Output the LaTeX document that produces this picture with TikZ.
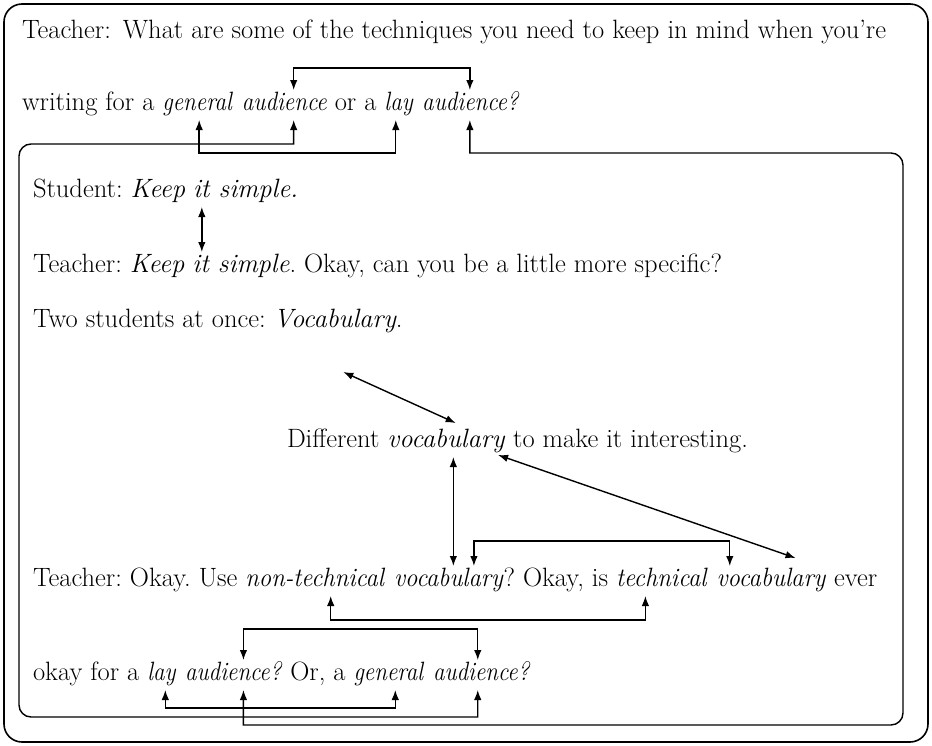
\documentclass[tikz,border=0pt]{standalone}
\usepackage{graphicx}
\usetikzlibrary{arrows.meta,calc}
\newcommand{\wsp}{8.8pt}
\newcommand{\itn}[2][0.87]{\scalebox{#1}[1]{\textit{#2}}}
\tikzset{
  wd/.style={inner sep=0pt, outer sep=0pt, anchor=base west, text height=20pt, text depth=10pt, font=\fontsize{26.5}{31}\selectfont},
  con/.style={line width=1.4pt, {Latex[length=10pt,width=7.5pt]}-{Latex[length=10pt,width=7.5pt]}},
  box/.style={line width=1.6pt, rounded corners=18pt},
}
\begin{document}
\frenchspacing
\begin{tikzpicture}[x=1pt,y=-1pt]
\useasboundingbox (0,0) rectangle (932,745);
\draw[box] (4,4) rectangle (928,742);

% line 1
\node[wd] (t1) at (22,38) {Teacher:\hspace{4pt} What are some of the techniques you need to keep in mind when you're};

% line 2
\node[wd] (l2a) at (22,110) {writing for a\ \null};
\node[wd] (l2gen) at (l2a.base east) {\itn{general}};
\node[wd] (l2aud) at ([xshift=\wsp]l2gen.base east) {\itn{audience}};
\node[wd] (l2b) at (l2aud.base east) {\ or a\ \null};
\node[wd] (l2lay) at (l2b.base east) {\itn{lay}};
\node[wd] (l2aud2) at ([xshift=\wsp]l2lay.base east) {\itn{audience?}};

% student
\node[wd] (s1a) at (33,197) {Student: \textit{Keep}\ \null};
\node[wd] (s1it) at (s1a.base east) {\textit{it}};
\node[wd] (s1b) at (s1it.base east) {\ \textit{simple.}};

% teacher keep
\node[wd] (t2a) at (33,272) {Teacher: \textit{Keep}\ \null};
\node[wd] (t2it) at (t2a.base east) {\textit{it}};
\node[wd] (t2b) at (t2it.base east) {\ \textit{simple}. Okay, can you be a little more specific?};

% two students
\node[wd] (ts) at (33,327) {Two students at once:\ \null};
\node[wd] (tsvoc) at (ts.base east) {\textit{Vocabulary}.};

% different
\node[wd] (da) at (287,447) {Different\ \null};
\node[wd] (dvoc) at (da.base east) {\textit{vocabulary}};
\node[wd] (db) at (dvoc.base east) {\ to make it interesting.};

% teacher okay
\node[wd] (t3a) at (33,586) {Teacher: Okay. Use\ \null};
\node[wd] (t3non) at (t3a.base east) {\itn[0.93]{non-technical}};
\node[wd] (t3voc) at ([xshift=\wsp]t3non.base east) {\itn[0.93]{vocabulary}?};
\node[wd] (t3b) at (t3voc.base east) {\ Okay, is\ \null};
\node[wd] (t3tech) at (t3b.base east) {\itn[0.93]{technical}};
\node[wd] (t3voc2) at ([xshift=\wsp]t3tech.base east) {\itn[0.93]{vocabulary}};
\node[wd] (t3c) at (t3voc2.base east) {\ ever};

% last line
\node[wd] (l4a) at (33,680) {okay for a\ \null};
\node[wd] (l4lay) at (l4a.base east) {\itn{lay}};
\node[wd] (l4aud) at ([xshift=\wsp]l4lay.base east) {\itn{audience?}};
\node[wd] (l4b) at (l4aud.base east) {\ Or, a\ \null};
\node[wd] (l4gen) at (l4b.base east) {\itn{general}};
\node[wd] (l4aud2) at ([xshift=\wsp]l4gen.base east) {\itn{audience?}};

% coordinates on words
\coordinate (g2t) at ($(l2aud.north west)!.61!(l2aud.north east)$);
\coordinate (g2b) at ($(l2aud.south west)!.61!(l2aud.south east)$);
\coordinate (gen2b) at ($(l2gen.south west)!.52!(l2gen.south east)$);
\coordinate (lay2b) at ($(l2lay.south west)!.39!(l2lay.south east)$);
\coordinate (la2t) at ($(l2aud2.north west)!.49!(l2aud2.north east)$);
\coordinate (la2b) at ($(l2aud2.south west)!.49!(l2aud2.south east)$);

\coordinate (lay4b) at ($(l4lay.south west)!.62!(l4lay.south east)$);
\coordinate (la4t) at ($(l4aud.north west)!.60!(l4aud.north east)$);
\coordinate (la4b) at ($(l4aud.south west)!.60!(l4aud.south east)$);
\coordinate (gen4b) at ($(l4gen.south west)!.59!(l4gen.south east)$);
\coordinate (ga4t) at ($(l4aud2.north west)!.46!(l4aud2.north east)$);
\coordinate (ga4b) at ($(l4aud2.south west)!.46!(l4aud2.south east)$);

\coordinate (nonb) at ($(t3non.south west)!.61!(t3non.south east)$);
\coordinate (v3t) at ($(t3voc.north west)!.66!(t3voc.north east)$);
\coordinate (techb) at ($(t3tech.south west)!.32!(t3tech.south east)$);
\coordinate (v4t1) at ($(t3voc2.north west)!.12!(t3voc2.north east)$);
\coordinate (v4t2) at ($(t3voc2.north west)!.72!(t3voc2.north east)+(0,-8)$);

\coordinate (dvb) at ($(dvoc.south west)!.56!(dvoc.south east)$);
\coordinate (dvt) at ($(dvoc.north west)!.58!(dvoc.north east)+(0,-4)$);
\coordinate (dvr) at ($(dvoc.south west)!.94!(dvoc.south east)+(0,-2)$);
\coordinate (tsv) at ($(tsvoc.south west)!.54!(tsvoc.south east)+(0,35)$);

% connectors
\draw[con] (g2t) -- (g2t |- 0,68) -- (la2t |- 0,68) -- (la2t);
\draw[con] (gen2b) -- (gen2b |- 0,153) -- (lay2b |- 0,153) -- (lay2b);
\draw[con] (g2b) -- (g2b |- 0,144) -- (31,144) arc[start angle=270,end angle=180,radius=12]
  -- (19,705) arc[start angle=180,end angle=90,radius=12] -- (ga4b |- 0,717) -- (ga4b);
\draw[con] (la2b) -- (la2b |- 0,153) -- (891,153) arc[start angle=270,end angle=360,radius=12]
  -- (903,713) arc[start angle=0,end angle=90,radius=12] -- (la4b |- 0,725) -- (la4b);

\draw[con] (s1it.south) -- (s1it.south |- t2it.north);
\draw[con] (tsv) -- (dvt);
\draw[con] (dvb) -- (dvb |- t3voc.north);
\draw[con] (dvr) -- (v4t2);
\draw[con] (v3t) -- (v3t |- 0,541) -- (v4t1 |- 0,541) -- (v4t1);
\draw[con] (nonb) -- (nonb |- 0,620) -- (techb |- 0,620) -- (techb);
\draw[con] (la4t) -- (la4t |- 0,629) -- (ga4t |- 0,629) -- (ga4t);
\draw[con] (lay4b) -- (lay4b |- 0,708) -- (gen4b |- 0,708) -- (gen4b);
\end{tikzpicture}
\end{document}
